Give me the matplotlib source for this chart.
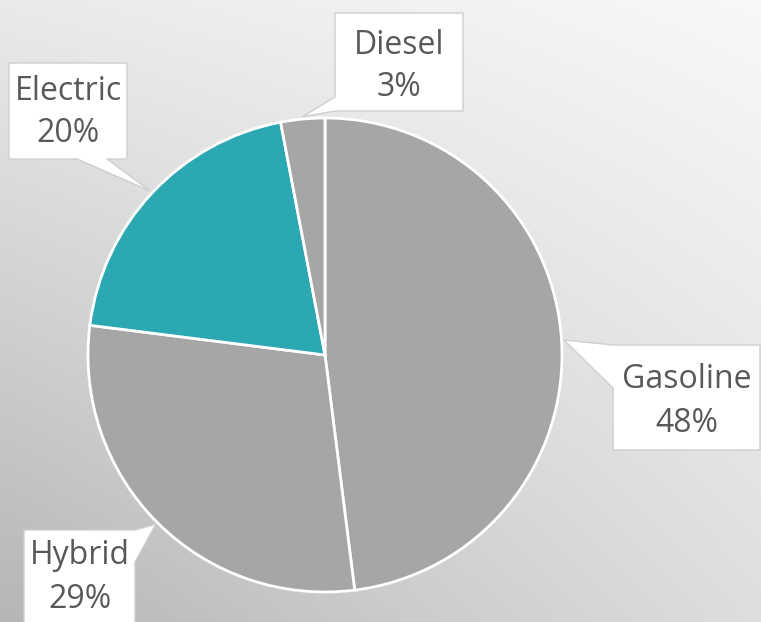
import numpy as np
import matplotlib
matplotlib.use("Agg")
import matplotlib.pyplot as plt
from matplotlib.patches import Polygon

# ---- data ----
categories = ["Gasoline", "Hybrid", "Electric", "Diesel"]
shares = [48, 29, 20, 3]
colors = ["#a6a6a6", "#a6a6a6", "#2ba8b2", "#a6a6a6"]

W, H = 761, 622
fig = plt.figure(figsize=(W / 100, H / 100), dpi=100)

# background gradient (bilinear between corner greys)
bg = fig.add_axes([0, 0, 1, 1])
tl, tr, bl, br = 234, 248, 182, 222
xs = np.linspace(0, 1, 200)
ys = np.linspace(0, 1, 200)
X, Y = np.meshgrid(xs, ys)
top = tl + (tr - tl) * X
bot = bl + (br - bl) * X
G = (top + (bot - top) * Y) / 255.0
img = np.dstack([G, G, G])
bg.imshow(img, extent=[0, W, H, 0], aspect="auto", interpolation="bilinear")
bg.set_xlim(0, W)
bg.set_ylim(H, 0)
bg.axis("off")

# pie axes
cx, cy, R = 325, 355, 237
ax = fig.add_axes([(cx - R) / W, (H - cy - R) / H, 2 * R / W, 2 * R / H])
wedges, _ = ax.pie(shares, colors=colors, startangle=90, counterclock=False,
                   radius=1, wedgeprops=dict(edgecolor="white", linewidth=2))
ax.set_xlim(-1, 1)
ax.set_ylim(-1, 1)
ax.set_aspect("equal")
ax.axis("off")

# overlay axes in pixel coordinates for callouts
ov = fig.add_axes([0, 0, 1, 1], zorder=5)
ov.set_xlim(0, W)
ov.set_ylim(H, 0)
ov.axis("off")

# callout layout: box (x0,y0,x1,y1), wedge side and base span, text centre
layout = {
    "Gasoline": dict(box=(613, 345, 760, 450), side="left", base=(345, 388), tx=687, ty=(379, 424)),
    "Hybrid":   dict(box=(24, 530, 135, 640), side="right", base=(530, 562), tx=80, ty=(556, 600)),
    "Electric": dict(box=(9, 63, 127, 159), side="bottom", base=(77, 107), tx=68, ty=(91, 133)),
    "Diesel":   dict(box=(335, 13, 463, 111), side="left", base=(97, 111), tx=399, ty=(46, 87)),
}

for w, cat, val in zip(wedges, categories, shares):
    mid = np.deg2rad((w.theta1 + w.theta2) / 2)
    tipx = cx + R * 1.01 * np.cos(mid)
    tipy = cy - R * 1.01 * np.sin(mid)
    L = layout[cat]
    x0, y0, x1, y1 = L["box"]
    b0, b1 = L["base"]
    if L["side"] == "left":
        pts = [(x0, y0), (x1, y0), (x1, y1), (x0, y1), (x0, b1), (tipx, tipy), (x0, b0)]
    elif L["side"] == "right":
        pts = [(x0, y0), (x1, y0), (x1, b0), (tipx, tipy), (x1, b1), (x1, y1), (x0, y1)]
    else:  # bottom
        pts = [(x0, y0), (x1, y0), (x1, y1), (b1, y1), (tipx, tipy), (b0, y1), (x0, y1)]
    ov.add_patch(Polygon(pts, closed=True, facecolor="white", edgecolor="#cfcfcf", linewidth=1))
    ov.text(L["tx"], L["ty"][0], cat, ha="center", va="center", fontsize=23,
            family="Open Sans", color="#595959")
    ov.text(L["tx"], L["ty"][1], f"{val}%", ha="center", va="center", fontsize=23,
            family="Open Sans", color="#595959")

fig.savefig("out.png", dpi=100)
